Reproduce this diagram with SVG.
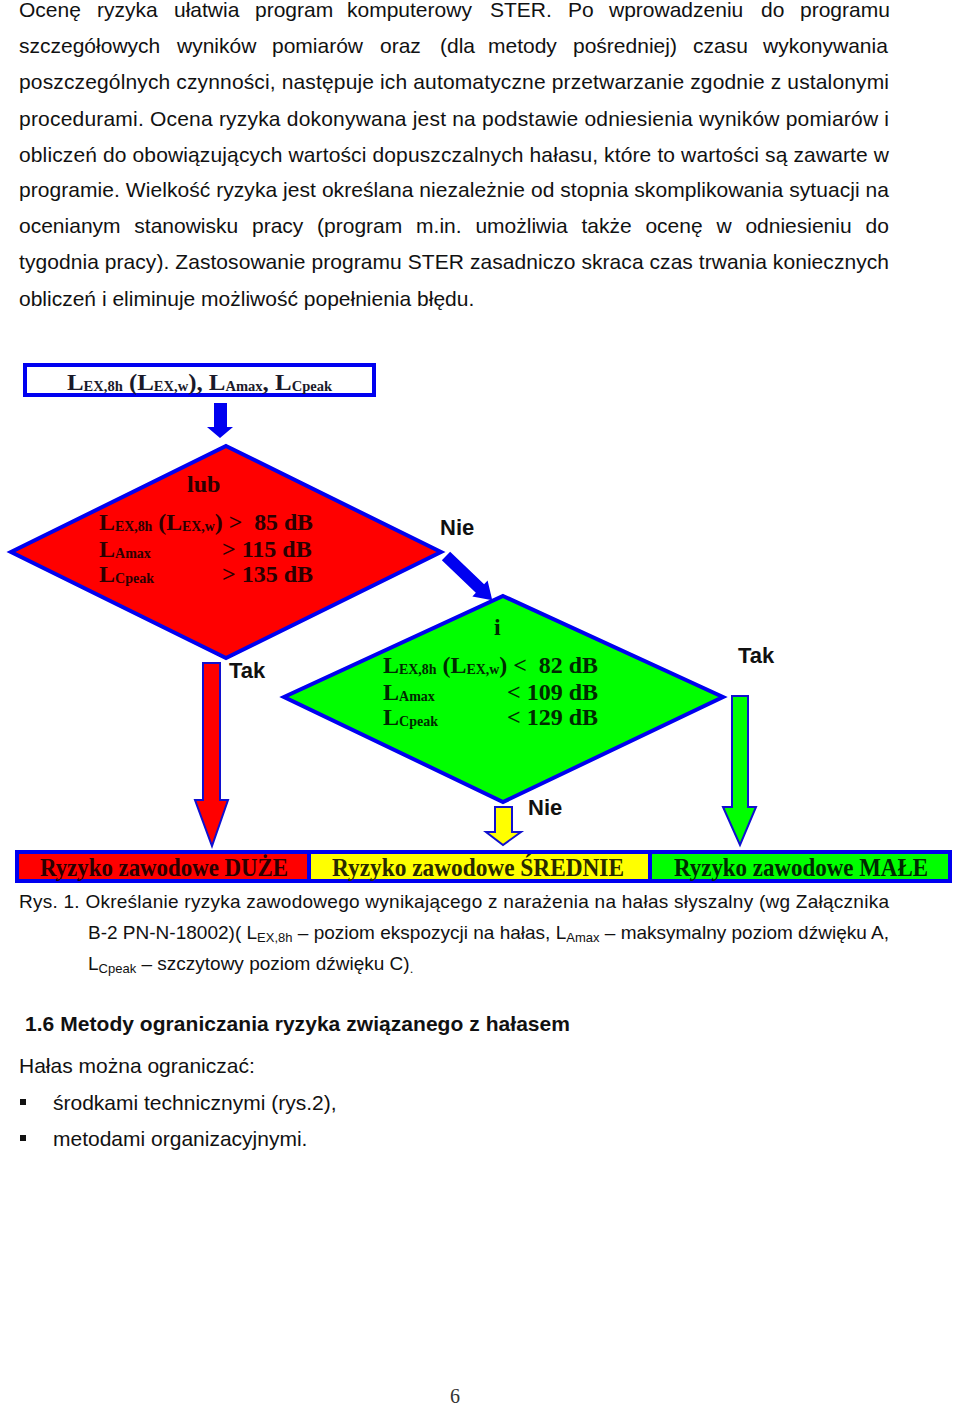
<svg xmlns="http://www.w3.org/2000/svg" width="960" height="1405" viewBox="0 0 960 1405">
<style>
.p{font-family:"Liberation Sans",Arial,sans-serif;font-size:21px;fill:#111}
.cap{font-family:"Liberation Sans",Arial,sans-serif;font-size:19px;fill:#111}
.sub{font-size:13px}
.lbl{font-family:"Liberation Sans",Arial,sans-serif;font-size:22px;font-weight:bold;fill:#111}
.t{font-family:"Liberation Serif","Times New Roman",serif;font-weight:bold;font-size:24px}
.ts{font-size:14px}
.bar{font-family:"Liberation Serif","Times New Roman",serif;font-weight:bold;font-size:26px}
.bl{stroke:#0000f0;stroke-width:4;stroke-linejoin:miter}
.ar{stroke:#1010d0;stroke-width:2}
</style>
<rect width="960" height="1405" fill="#fff"/>
<g id="paragraph">
<text class="p" y="17"><tspan x="19">Ocenę</tspan><tspan x="97">ryzyka</tspan><tspan x="174">ułatwia</tspan><tspan x="255">program</tspan><tspan x="347">komputerowy</tspan><tspan x="490">STER.</tspan><tspan x="568">Po</tspan><tspan x="609">wprowadzeniu</tspan><tspan x="761">do</tspan><tspan x="800">programu</tspan></text>
<text class="p" y="53"><tspan x="19">szczegółowych</tspan><tspan x="177">wyników</tspan><tspan x="272">pomiarów</tspan><tspan x="380">oraz</tspan><tspan x="440">(dla</tspan><tspan x="488">metody</tspan><tspan x="573">pośredniej)</tspan><tspan x="693">czasu</tspan><tspan x="763">wykonywania</tspan></text>
<text class="p" x="19" y="89" textLength="870" lengthAdjust="spacing">poszczególnych czynności, następuje ich automatyczne przetwarzanie zgodnie z ustalonymi</text>
<text class="p" x="19" y="126" textLength="870" lengthAdjust="spacing">procedurami. Ocena ryzyka dokonywana jest na podstawie odniesienia wyników pomiarów i</text>
<text class="p" x="19" y="162" textLength="870" lengthAdjust="spacing">obliczeń do obowiązujących wartości dopuszczalnych hałasu, które to wartości są zawarte w</text>
<text class="p" x="19" y="197" textLength="870" lengthAdjust="spacing">programie. Wielkość ryzyka jest określana niezależnie od stopnia skomplikowania sytuacji na</text>
<text class="p" y="233"><tspan x="19">ocenianym</tspan><tspan x="134.3">stanowisku</tspan><tspan x="252">pracy</tspan><tspan x="317.1">(program</tspan><tspan x="416.1">m.in.</tspan><tspan x="475.4">umożliwia</tspan><tspan x="581.4">także</tspan><tspan x="645.4">ocenę</tspan><tspan x="716.4">w</tspan><tspan x="745.4">odniesieniu</tspan><tspan x="865.6">do</tspan></text>
<text class="p" x="19" y="269" textLength="870" lengthAdjust="spacing">tygodnia pracy). Zastosowanie programu STER zasadniczo skraca czas trwania koniecznych</text>
<text class="p" x="19" y="306">obliczeń i eliminuje możliwość popełnienia błędu.</text>
</g>
<g id="connectors">
<polygon points="214,403 227,403 227,427 233,427 220,438 207,427 214,427" fill="#0000f0"/>
<g transform="translate(446,556) rotate(43.7)"><polygon points="0,-6 47,-6 47,-11 64,0 47,11 47,6 0,6" fill="#0000f0"/></g>
<polygon class="ar" points="203,663 220,663 220,800 228,800 212,846 195,800 203,800" fill="#ff0000"/>
<polygon class="ar" points="732,696 748,696 748,807 756,807 740,845 723,807 732,807" fill="#00ff00"/>
<polygon class="ar" points="495,807 512,807 512,832 521,832 503,845 486,832 495,832" fill="#ffff00"/>
</g>
<g id="input">
<rect class="bl" x="25" y="365" width="349" height="30" fill="#fff"/>
<text class="t" x="67" y="390" fill="#1a1a2a" textLength="265" lengthAdjust="spacingAndGlyphs">L<tspan class="ts" dy="1">EX,8h</tspan><tspan dy="-1"> (L</tspan><tspan class="ts" dy="1">EX,w</tspan><tspan dy="-1">), L</tspan><tspan class="ts" dy="1">Amax</tspan><tspan dy="-1">, L</tspan><tspan class="ts" dy="1">Cpeak</tspan></text>
</g>
<g id="decision-high">
<polygon class="bl" points="226,446 441,552 226,658 11,552" fill="#ff0000"/>
<text class="t" x="187" y="492" fill="#2a0000">lub</text>
<text class="t" x="99" y="530" fill="#2a0000" textLength="214" lengthAdjust="spacingAndGlyphs">L<tspan class="ts" dy="1">EX,8h</tspan><tspan dy="-1"> (L</tspan><tspan class="ts" dy="1">EX,w</tspan><tspan dy="-1">) &gt; &#160;85 dB</tspan></text>
<text class="t" x="99" y="557" fill="#2a0000">L<tspan class="ts" dy="1">Amax</tspan></text>
<text class="t" x="222" y="557" fill="#2a0000">&gt; 115 dB</text>
<text class="t" x="99" y="582" fill="#2a0000">L<tspan class="ts" dy="1">Cpeak</tspan></text>
<text class="t" x="222" y="582" fill="#2a0000">&gt; 135 dB</text>
</g>
<g id="decision-low">
<polygon class="bl" points="503,596 723,697 503,802 284,697" fill="#00ff00"/>
<text class="t" x="494" y="635" fill="#002a00">i</text>
<text class="t" x="383" y="673" fill="#002a00" textLength="215" lengthAdjust="spacingAndGlyphs">L<tspan class="ts" dy="1">EX,8h</tspan><tspan dy="-1"> (L</tspan><tspan class="ts" dy="1">EX,w</tspan><tspan dy="-1">) &lt; &#160;82 dB</tspan></text>
<text class="t" x="383" y="700" fill="#002a00">L<tspan class="ts" dy="1">Amax</tspan></text>
<text class="t" x="507" y="700" fill="#002a00">&lt; 109 dB</text>
<text class="t" x="383" y="725" fill="#002a00">L<tspan class="ts" dy="1">Cpeak</tspan></text>
<text class="t" x="507" y="725" fill="#002a00">&lt; 129 dB</text>
</g>
<g id="labels">
<text class="lbl" x="440" y="535">Nie</text>
<text class="lbl" x="229" y="678">Tak</text>
<text class="lbl" x="738" y="663">Tak</text>
<text class="lbl" x="528" y="815">Nie</text>
</g>
<g id="result-high">
<rect class="bl" x="17" y="852" width="292" height="29" fill="#ff0000"/>
<text class="bar" x="40" y="876" fill="#2a0000" textLength="248" lengthAdjust="spacingAndGlyphs">Ryzyko zawodowe DUŻE</text>
</g>
<g id="result-medium">
<rect class="bl" x="309" y="852" width="341" height="29" fill="#ffff00"/>
<text class="bar" x="332" y="876" fill="#2a2a00" textLength="292" lengthAdjust="spacingAndGlyphs">Ryzyko zawodowe ŚREDNIE</text>
</g>
<g id="result-low">
<rect class="bl" x="650" y="852" width="300" height="29" fill="#00ff00"/>
<text class="bar" x="674" y="876" fill="#002a00" textLength="254" lengthAdjust="spacingAndGlyphs">Ryzyko zawodowe MAŁE</text>
</g>
<g id="caption">
<text class="cap" x="19" y="908" textLength="870" lengthAdjust="spacing">Rys. 1. Określanie ryzyka zawodowego wynikającego z narażenia na hałas słyszalny (wg Załącznika</text>
<text class="cap" x="88" y="939" textLength="801" lengthAdjust="spacing">B-2 PN-N-18002)( L<tspan class="sub" dy="3">EX,8h</tspan><tspan dy="-3"> – poziom ekspozycji na hałas, L</tspan><tspan class="sub" dy="3">Amax</tspan><tspan dy="-3"> – maksymalny poziom dźwięku A,</tspan></text>
<text class="cap" x="88" y="970">L<tspan class="sub" dy="3">Cpeak</tspan><tspan dy="-3"> – szczytowy poziom dźwięku C)</tspan><tspan class="sub" dy="3">.</tspan></text>
</g>
<g id="section">
<text class="p" x="25" y="1031" font-weight="bold" font-size="20" textLength="545" lengthAdjust="spacing">1.6 Metody ograniczania ryzyka związanego z hałasem</text>
<text class="p" x="19" y="1073">Hałas można ograniczać:</text>
<rect x="20" y="1099" width="6" height="6" fill="#111"/>
<text class="p" x="53" y="1110">środkami technicznymi (rys.2),</text>
<rect x="20" y="1135" width="6" height="6" fill="#111"/>
<text class="p" x="53" y="1146">metodami organizacyjnymi.</text>
<text x="455" y="1403" text-anchor="middle" font-family="Liberation Serif,serif" font-size="20" fill="#333">6</text>
</g>
</svg>
